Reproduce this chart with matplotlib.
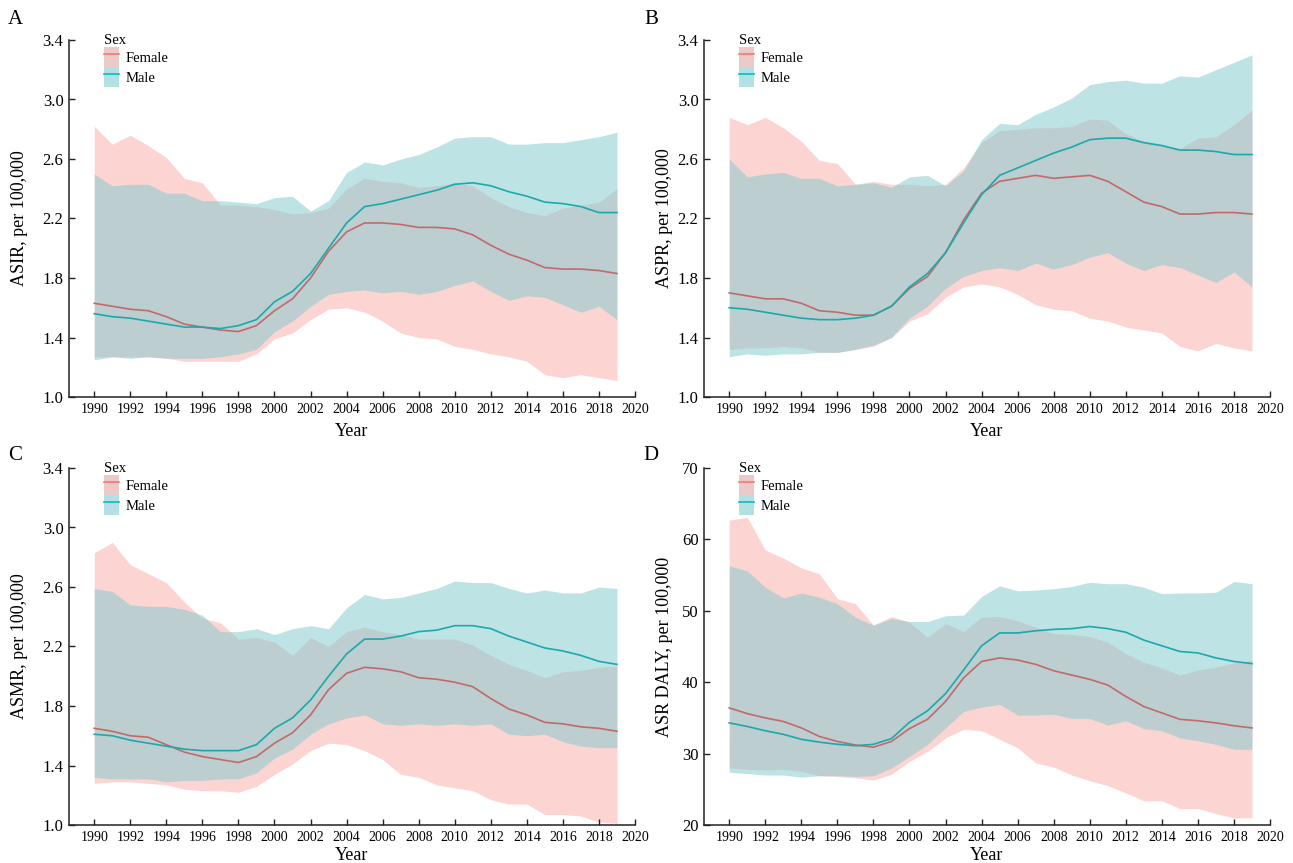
import matplotlib
matplotlib.use('Agg')
import matplotlib.pyplot as plt
from matplotlib.patches import Patch
from matplotlib.lines import Line2D
from matplotlib.ticker import FormatStrFormatter

plt.rcParams['font.family'] = ['Liberation Serif', 'DejaVu Serif']

years = list(range(1990, 2020))

# A: incidence
asir_f = [1.63, 1.61, 1.59, 1.58, 1.54, 1.49, 1.47, 1.45, 1.44, 1.48, 1.58, 1.66, 1.80, 1.98, 2.11,
          2.17, 2.17, 2.16, 2.14, 2.14, 2.13, 2.09, 2.02, 1.96, 1.92, 1.87, 1.86, 1.86, 1.85, 1.83]
asir_f_lo = [1.27, 1.27, 1.27, 1.27, 1.26, 1.24, 1.24, 1.24, 1.24, 1.29, 1.39, 1.43, 1.52, 1.59, 1.60,
             1.57, 1.51, 1.43, 1.40, 1.39, 1.34, 1.32, 1.29, 1.27, 1.24, 1.15, 1.13, 1.15, 1.13, 1.11]
asir_f_hi = [2.82, 2.70, 2.76, 2.69, 2.61, 2.47, 2.44, 2.29, 2.29, 2.28, 2.26, 2.23, 2.24, 2.27, 2.40,
             2.47, 2.45, 2.44, 2.41, 2.42, 2.44, 2.42, 2.34, 2.28, 2.24, 2.22, 2.27, 2.29, 2.31, 2.40]
asir_m = [1.56, 1.54, 1.53, 1.51, 1.49, 1.47, 1.47, 1.46, 1.48, 1.52, 1.64, 1.71, 1.83, 2.00, 2.17,
          2.28, 2.30, 2.33, 2.36, 2.39, 2.43, 2.44, 2.42, 2.38, 2.35, 2.31, 2.30, 2.28, 2.24, 2.24]
asir_m_lo = [1.25, 1.27, 1.26, 1.27, 1.26, 1.26, 1.26, 1.27, 1.29, 1.32, 1.44, 1.51, 1.61, 1.69, 1.71,
             1.72, 1.70, 1.71, 1.69, 1.71, 1.75, 1.78, 1.71, 1.65, 1.68, 1.67, 1.62, 1.57, 1.61, 1.52]
asir_m_hi = [2.50, 2.42, 2.43, 2.43, 2.37, 2.37, 2.32, 2.32, 2.31, 2.30, 2.34, 2.35, 2.25, 2.32, 2.51,
             2.58, 2.56, 2.60, 2.63, 2.68, 2.74, 2.75, 2.75, 2.70, 2.70, 2.71, 2.71, 2.73, 2.75, 2.78]

# B: prevalence
aspr_f = [1.70, 1.68, 1.66, 1.66, 1.63, 1.58, 1.57, 1.55, 1.55, 1.61, 1.73, 1.81, 1.97, 2.19, 2.37,
          2.45, 2.47, 2.49, 2.47, 2.48, 2.49, 2.45, 2.38, 2.31, 2.28, 2.23, 2.23, 2.24, 2.24, 2.23]
aspr_f_lo = [1.32, 1.33, 1.33, 1.34, 1.33, 1.30, 1.30, 1.32, 1.34, 1.40, 1.51, 1.56, 1.67, 1.74, 1.76,
             1.74, 1.69, 1.62, 1.59, 1.58, 1.53, 1.51, 1.47, 1.45, 1.43, 1.34, 1.31, 1.36, 1.33, 1.31]
aspr_f_hi = [2.88, 2.83, 2.88, 2.81, 2.72, 2.59, 2.57, 2.43, 2.45, 2.43, 2.43, 2.42, 2.43, 2.54, 2.71,
             2.79, 2.80, 2.81, 2.81, 2.82, 2.87, 2.86, 2.77, 2.72, 2.70, 2.67, 2.74, 2.75, 2.83, 2.93]
aspr_m = [1.60, 1.59, 1.57, 1.55, 1.53, 1.52, 1.52, 1.53, 1.55, 1.61, 1.74, 1.83, 1.97, 2.17, 2.36,
          2.49, 2.54, 2.59, 2.64, 2.68, 2.73, 2.74, 2.74, 2.71, 2.69, 2.66, 2.66, 2.65, 2.63, 2.63]
aspr_m_lo = [1.27, 1.29, 1.28, 1.29, 1.29, 1.30, 1.30, 1.32, 1.35, 1.40, 1.53, 1.61, 1.73, 1.81, 1.85,
             1.87, 1.85, 1.90, 1.86, 1.89, 1.94, 1.97, 1.90, 1.85, 1.89, 1.87, 1.82, 1.77, 1.84, 1.74]
aspr_m_hi = [2.60, 2.48, 2.50, 2.51, 2.47, 2.47, 2.42, 2.43, 2.44, 2.41, 2.48, 2.49, 2.42, 2.52, 2.73,
             2.84, 2.83, 2.90, 2.95, 3.01, 3.10, 3.12, 3.13, 3.11, 3.11, 3.16, 3.15, 3.20, 3.25, 3.30]

# C: mortality
asmr_f = [1.65, 1.63, 1.60, 1.59, 1.54, 1.49, 1.46, 1.44, 1.42, 1.46, 1.55, 1.62, 1.74, 1.91, 2.02,
          2.06, 2.05, 2.03, 1.99, 1.98, 1.96, 1.93, 1.85, 1.78, 1.74, 1.69, 1.68, 1.66, 1.65, 1.63]
asmr_f_lo = [1.28, 1.29, 1.29, 1.28, 1.27, 1.24, 1.23, 1.23, 1.22, 1.26, 1.34, 1.41, 1.50, 1.55, 1.54,
             1.50, 1.44, 1.34, 1.32, 1.27, 1.25, 1.23, 1.17, 1.14, 1.14, 1.07, 1.07, 1.06, 1.02, 1.01]
asmr_f_hi = [2.83, 2.90, 2.75, 2.69, 2.63, 2.50, 2.39, 2.36, 2.25, 2.26, 2.23, 2.14, 2.26, 2.20, 2.30,
             2.33, 2.30, 2.28, 2.25, 2.25, 2.25, 2.21, 2.14, 2.08, 2.04, 1.99, 2.03, 2.04, 2.06, 2.07]
asmr_m = [1.61, 1.60, 1.57, 1.55, 1.53, 1.51, 1.50, 1.50, 1.50, 1.54, 1.65, 1.72, 1.84, 2.00, 2.15,
          2.25, 2.25, 2.27, 2.30, 2.31, 2.34, 2.34, 2.32, 2.27, 2.23, 2.19, 2.17, 2.14, 2.10, 2.08]
asmr_m_lo = [1.32, 1.31, 1.31, 1.31, 1.29, 1.30, 1.30, 1.31, 1.31, 1.35, 1.45, 1.51, 1.61, 1.68, 1.72,
             1.74, 1.68, 1.67, 1.68, 1.67, 1.68, 1.67, 1.68, 1.61, 1.60, 1.61, 1.56, 1.53, 1.52, 1.52]
asmr_m_hi = [2.59, 2.57, 2.48, 2.47, 2.47, 2.45, 2.41, 2.30, 2.30, 2.32, 2.28, 2.32, 2.34, 2.32, 2.46,
             2.55, 2.52, 2.53, 2.56, 2.59, 2.64, 2.63, 2.63, 2.59, 2.56, 2.58, 2.56, 2.56, 2.60, 2.59]

# D: DALY
daly_f = [36.4, 35.6, 35.0, 34.5, 33.6, 32.4, 31.7, 31.2, 30.9, 31.7, 33.5, 34.8, 37.3, 40.6, 42.9,
          43.4, 43.1, 42.5, 41.6, 41.0, 40.4, 39.6, 38.0, 36.6, 35.7, 34.8, 34.6, 34.3, 33.9, 33.6]
daly_f_lo = [28.0, 27.8, 27.7, 27.8, 27.5, 26.9, 26.8, 26.6, 26.3, 27.1, 28.9, 30.3, 32.2, 33.4, 33.2,
             32.0, 30.8, 28.7, 28.1, 27.0, 26.2, 25.5, 24.5, 23.4, 23.4, 22.3, 22.3, 21.6, 21.0, 21.0]
daly_f_hi = [62.7, 63.1, 58.5, 57.4, 56.0, 55.2, 51.7, 51.0, 48.0, 49.2, 48.4, 46.3, 48.2, 47.1, 49.1,
             49.2, 48.6, 47.7, 46.8, 46.7, 46.4, 45.6, 44.0, 42.8, 42.0, 41.0, 41.7, 42.1, 42.7, 43.1]
daly_m = [34.3, 33.8, 33.2, 32.7, 32.0, 31.6, 31.3, 31.1, 31.3, 32.1, 34.4, 36.0, 38.4, 41.7, 45.1,
          46.9, 46.9, 47.2, 47.4, 47.5, 47.8, 47.5, 47.0, 45.9, 45.1, 44.3, 44.1, 43.4, 42.9, 42.6]
daly_m_lo = [27.4, 27.2, 27.0, 27.0, 26.7, 26.9, 26.9, 26.8, 26.9, 28.0, 29.6, 31.3, 33.6, 35.9, 36.5,
             36.9, 35.4, 35.4, 35.5, 34.9, 34.9, 34.0, 34.6, 33.5, 33.2, 32.2, 31.8, 31.3, 30.6, 30.6]
daly_m_hi = [56.3, 55.6, 53.3, 51.8, 52.5, 51.9, 51.0, 49.1, 48.0, 48.9, 48.5, 48.5, 49.3, 49.4, 52.0,
             53.5, 52.8, 52.9, 53.1, 53.4, 54.0, 53.8, 53.8, 53.3, 52.4, 52.5, 52.5, 52.6, 54.1, 53.8]

panel_letters = ['A', 'B', 'C', 'D']
ylabels = ['ASIR, per 100,000', 'ASPR, per 100,000', 'ASMR, per 100,000', 'ASR DALY, per 100,000']
xticks = list(range(1990, 2021, 2))

# colours
F_BAND = '#F8766D'
M_BAND = '#7DC9CD'
F_LINE = '#C26A6A'
M_LINE = '#1AA9AC'

W, H = 1293, 863
fig = plt.figure(figsize=(W / 100, H / 100), dpi=100)

# axes boxes in pixels: left, top (y max), width, height
ax_w, ax_h = 566, 357
boxes = [(69, 40), (704, 40), (69, 468), (704, 468)]
letter_pos = [(15, 20), (651, 20), (15, 455), (651, 455)]
ylab_x = [-0.073, -0.054, -0.073, -0.054]
xlab_pad = [5, 5, 2.5, 2.5]

data = [
    (asir_f, asir_f_lo, asir_f_hi, asir_m, asir_m_lo, asir_m_hi),
    (aspr_f, aspr_f_lo, aspr_f_hi, aspr_m, aspr_m_lo, aspr_m_hi),
    (asmr_f, asmr_f_lo, asmr_f_hi, asmr_m, asmr_m_lo, asmr_m_hi),
    (daly_f, daly_f_lo, daly_f_hi, daly_m, daly_m_lo, daly_m_hi),
]

for i, (left, top) in enumerate(boxes):
    ax = fig.add_axes([left / W, 1 - (top + ax_h) / H, ax_w / W, ax_h / H])
    f, f_lo, f_hi, m, m_lo, m_hi = data[i]

    # bands first (male on top), then lines
    ax.fill_between(years, f_lo, f_hi, color=F_BAND, alpha=0.3, linewidth=0, zorder=1)
    ax.fill_between(years, m_lo, m_hi, color=M_BAND, alpha=0.5, linewidth=0, zorder=2)
    ax.plot(years, f, color=F_LINE, lw=1.2, zorder=3)
    ax.plot(years, m, color=M_LINE, lw=1.2, zorder=3)

    ax.set_xlim(1988.6, 2020)
    ax.set_xticks(xticks)
    if i == 3:
        ax.set_ylim(20, 70)
        ax.set_yticks(range(20, 71, 10))
    else:
        ax.set_ylim(1.0, 3.4)
        ax.set_yticks([1.0, 1.4, 1.8, 2.2, 2.6, 3.0, 3.4])
        ax.yaxis.set_major_formatter(FormatStrFormatter('%.1f'))

    for s in ['top', 'right']:
        ax.spines[s].set_visible(False)
    for s in ['left', 'bottom']:
        ax.spines[s].set_linewidth(1.1)
        ax.spines[s].set_color('#222222')

    ax.tick_params(axis='x', direction='in', length=4.5, width=1.0, labelsize=10, pad=4,
                   color='#222222')
    ax.tick_params(axis='y', direction='in', length=4.5, width=1.0, labelsize=12, pad=4,
                   color='#222222')

    ax.set_xlabel('Year', fontsize=13, labelpad=xlab_pad[i])
    ax.set_ylabel(ylabels[i], fontsize=13)
    ax.yaxis.set_label_coords(ylab_x[i], 0.5)

    # legend: fill patch with line drawn across it
    h_f = (Patch(facecolor='#EDCACA', edgecolor='none'), Line2D([], [], color='#F8766D', lw=1.2))
    h_m = (Patch(facecolor='#B3E1E3', edgecolor='none'), Line2D([], [], color='#00BFC4', lw=1.2))
    ax.legend([h_f, h_m], ['Female', 'Male'], title='Sex', loc='upper left',
              bbox_to_anchor=(0.062, 1.017), frameon=False, fontsize=10.5,
              title_fontsize=10.5, handlelength=1.05, handleheight=1.75,
              labelspacing=0.0, handletextpad=0.45, borderpad=0, borderaxespad=0,
              alignment='left')

    lx, ly = letter_pos[i]
    fig.text(lx / W, 1 - ly / H, panel_letters[i], fontsize=15, ha='center', va='center')

fig.savefig('out.png', dpi=100)
